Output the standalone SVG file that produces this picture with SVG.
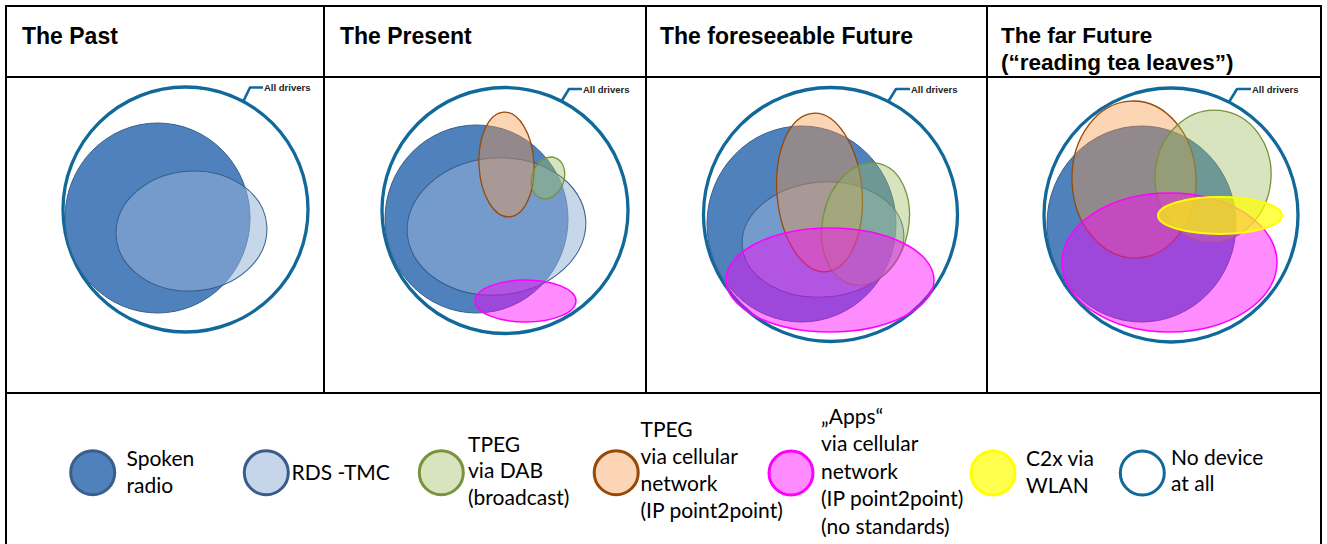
<svg xmlns="http://www.w3.org/2000/svg" width="1327" height="544" viewBox="0 0 1327 544">
  <style>
    .grid { stroke: #000; stroke-width: 2; fill: none; }
    .head { font-family: "Liberation Sans", Arial, sans-serif; font-weight: bold; font-size: 23px; fill: #000; }
    .head2 { font-size: 22.5px; }
    .leg { font-family: Lato, "Open Sans", sans-serif; font-size: 21px; fill: #000; }
    .tag { font-family: "Liberation Sans", Arial, sans-serif; font-weight: bold; font-size: 9.5px; fill: #222; }
    .outer { fill: none; stroke: #10699a; stroke-width: 3.3; }
    .leader { fill: none; stroke: #10699a; stroke-width: 2.6; stroke-linejoin: round; }
    .spoken { fill: #4f81bd; stroke: #3a5f8b; stroke-width: 1; }
    .rds { fill: #95b3d7; fill-opacity: 0.53; stroke: #385d8a; stroke-width: 1; }
    .dab { fill: #9bbb59; fill-opacity: 0.4; stroke: #77933c; stroke-width: 1.3; }
    .cell { fill: #f79646; fill-opacity: 0.4; stroke: #984807; stroke-width: 1.3; }
    .apps { fill: #ff00ff; fill-opacity: 0.45; stroke: #ff00ff; stroke-width: 1.5; }
    .c2x { fill: #ffff00; fill-opacity: 0.7; stroke: #ffff00; stroke-width: 2; }
    .key { stroke-width: 3; }
  </style>

  <rect width="1327" height="544" fill="#fff"/>

  <!-- table rules -->
  <g id="table" class="grid">
    <line x1="5" y1="6" x2="1322" y2="6"/>
    <line x1="5" y1="77" x2="1322" y2="77"/>
    <line x1="5" y1="393" x2="1322" y2="393"/>
    <line x1="6" y1="5" x2="6" y2="544"/>
    <line x1="1321" y1="5" x2="1321" y2="544"/>
    <line x1="324" y1="6" x2="324" y2="393"/>
    <line x1="646" y1="6" x2="646" y2="393"/>
    <line x1="987" y1="6" x2="987" y2="393"/>
  </g>

  <!-- column headings -->
  <g id="headings">
    <text class="head" x="22" y="44">The Past</text>
    <text class="head" x="340" y="44">The Present</text>
    <text class="head" x="660" y="44">The foreseeable Future</text>
    <text class="head head2" x="1001" y="43">The far Future</text>
    <text class="head head2" x="1001" y="69.5">(“reading tea leaves”)</text>
  </g>

  <!-- era 1 -->
  <g id="past">
    <circle class="outer" cx="185.5" cy="209.5" r="122.5"/>
    <ellipse class="spoken" cx="157.5" cy="218" rx="92.5" ry="95"/>
    <ellipse class="rds" cx="191.5" cy="231" rx="75.5" ry="60" transform="rotate(-4 191.5 231)"/>
    <path class="leader" d="M243,102 L250,87.5 L263,87.5"/>
    <text class="tag" x="264" y="91">All drivers</text>
  </g>

  <!-- era 2 -->
  <g id="present">
    <circle class="outer" cx="505" cy="210.5" r="123"/>
    <ellipse class="spoken" cx="476.5" cy="219" rx="91.5" ry="94"/>
    <ellipse class="rds" cx="496.5" cy="226.5" rx="89.5" ry="68.5" transform="rotate(-5 496.5 226.5)"/>
    <ellipse class="cell" cx="506.5" cy="164.5" rx="27.5" ry="52.5" transform="rotate(-3 506.5 164.5)"/>
    <ellipse class="dab" cx="548" cy="178" rx="16" ry="21.5" transform="rotate(20 548 178)"/>
    <ellipse class="apps" cx="525.5" cy="301" rx="50.5" ry="21"/>
    <path class="leader" d="M561,102 L569,89 L582,89"/>
    <text class="tag" x="583" y="92.5">All drivers</text>
  </g>

  <!-- era 3 -->
  <g id="foreseeable">
    <circle class="outer" cx="830.5" cy="214.5" r="127"/>
    <ellipse class="spoken" cx="801.5" cy="224" rx="94.5" ry="98"/>
    <ellipse class="rds" cx="823" cy="239.5" rx="81" ry="57.5" transform="rotate(-5 823 239.5)"/>
    <ellipse class="cell" cx="819.5" cy="192.5" rx="42.5" ry="79.5" transform="rotate(-5 819.5 192.5)"/>
    <ellipse class="dab" cx="865.5" cy="224" rx="43" ry="62" transform="rotate(12 865.5 224)"/>
    <ellipse class="apps" cx="830" cy="280" rx="104" ry="52"/>
    <path class="leader" d="M888,102 L896,89 L910,89"/>
    <text class="tag" x="911" y="92.5">All drivers</text>
  </g>

  <!-- era 4 -->
  <g id="far">
    <circle class="outer" cx="1171" cy="215" r="127"/>
    <ellipse class="spoken" cx="1141.5" cy="224" rx="94.5" ry="98"/>
    <ellipse class="cell" cx="1134" cy="179.5" rx="62" ry="78.5" transform="rotate(-2 1134 179.5)"/>
    <ellipse class="dab" cx="1213" cy="176" rx="58" ry="66" transform="rotate(6 1213 176)"/>
    <ellipse class="apps" cx="1169.5" cy="262.5" rx="107.5" ry="69.5"/>
    <ellipse class="c2x" cx="1220" cy="215.5" rx="62" ry="18.5"/>
    <path class="leader" d="M1229,102 L1237,89 L1251,89"/>
    <text class="tag" x="1252" y="92.5">All drivers</text>
  </g>

  <!-- key -->
  <g id="key-spoken">
    <circle class="spoken key" cx="92.7" cy="472.7" r="22"/>
    <text class="leg" x="126.5"><tspan x="126.5" y="466">Spoken</tspan><tspan x="126.5" y="493">radio</tspan></text>
  </g>
  <g id="key-rds">
    <circle class="key" cx="266.3" cy="472.7" r="22" fill="#c6d5ea" stroke="#385d8a"/>
    <text class="leg" x="291.5" y="480">RDS -TMC</text>
  </g>
  <g id="key-dab">
    <circle class="key" cx="441.3" cy="472.7" r="22" fill="#d7e4bd" stroke="#77933c"/>
    <text class="leg"><tspan x="468" y="451.5">TPEG</tspan><tspan x="468" y="478">via DAB</tspan><tspan x="468" y="504.5">(broadcast)</tspan></text>
  </g>
  <g id="key-cell">
    <circle class="key" cx="616.2" cy="472.7" r="22" fill="#fbd5b5" stroke="#984807"/>
    <text class="leg"><tspan x="640.5" y="437">TPEG</tspan><tspan x="640.5" y="464">via cellular</tspan><tspan x="640.5" y="491">network</tspan><tspan x="640.5" y="518">(IP point2point)</tspan></text>
  </g>
  <g id="key-apps">
    <circle class="key" cx="791" cy="473" r="22" fill="#ff8cff" stroke="#ff00ff"/>
    <text class="leg"><tspan x="821" y="423.5">„Apps“</tspan><tspan x="821" y="451">via cellular</tspan><tspan x="821" y="478.5">network</tspan><tspan x="821" y="506">(IP point2point)</tspan><tspan x="821" y="533.5">(no standards)</tspan></text>
  </g>
  <g id="key-c2x">
    <circle class="key" cx="993" cy="473" r="22" fill="#ffff4d" stroke="#ffff00"/>
    <text class="leg"><tspan x="1026" y="466">C2x via</tspan><tspan x="1026" y="492.5">WLAN</tspan></text>
  </g>
  <g id="key-none">
    <circle class="key" cx="1142.3" cy="473" r="22" fill="#fff" stroke="#10699a"/>
    <text class="leg"><tspan x="1171" y="465">No device</tspan><tspan x="1171" y="491">at all</tspan></text>
  </g>
</svg>
